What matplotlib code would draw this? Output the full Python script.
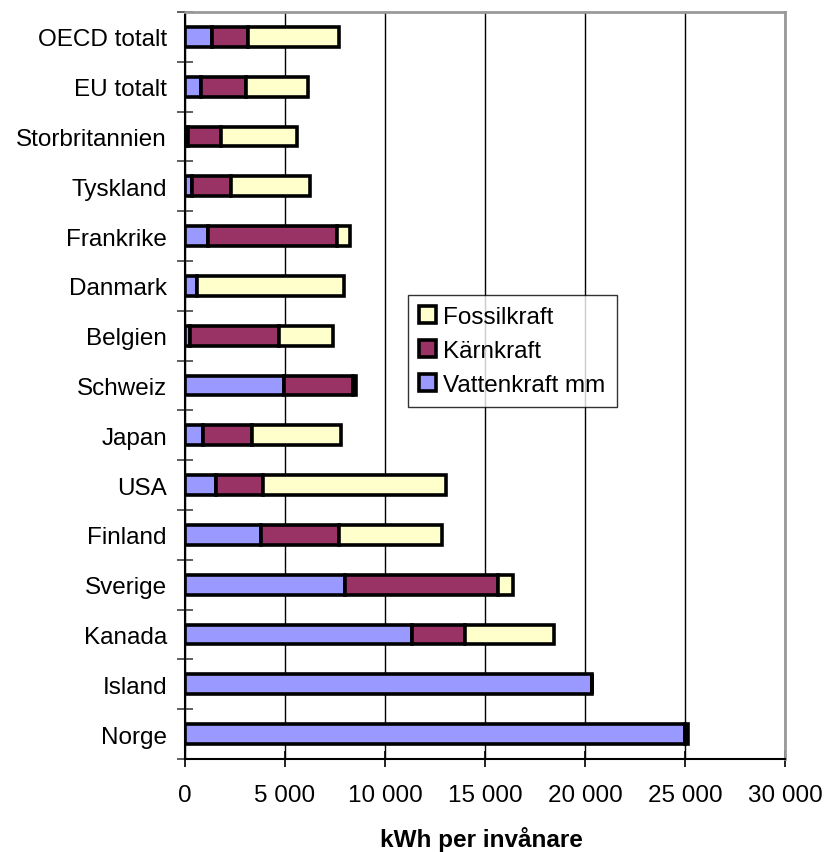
import numpy as np
import matplotlib.pyplot as plt

# Länder (nerifrån och upp som i diagrammet)
lander = ['Norge', 'Island', 'Kanada', 'Sverige', 'Finland', 'USA', 'Japan',
          'Schweiz', 'Belgien', 'Danmark', 'Frankrike', 'Tyskland',
          'Storbritannien', 'EU totalt', 'OECD totalt']

# kWh per invånare
vattenkraft = [25000, 20370, 11370, 7980, 3800, 1570, 920,
               4930, 230, 580, 1150, 350, 170, 820, 1370]
karnkraft = [0, 0, 2630, 7690, 3900, 2350, 2410,
             3470, 4450, 0, 6430, 1950, 1610, 2230, 1800]
fossilkraft = [130, 0, 4430, 750, 5170, 9150, 4470,
               150, 2720, 7350, 650, 3950, 3800, 3100, 4550]

xticks = [0, 5000, 10000, 15000, 20000, 25000, 30000]

plt.rcParams['font.family'] = ['Liberation Sans', 'DejaVu Sans']
fs = 17.5

fig = plt.figure(figsize=(8.24, 8.53), dpi=100)
ax = fig.add_axes([185/824, 93/853, 600/824, 747/853])

y = np.arange(len(lander))
h = 0.4
v = np.array(vattenkraft)
k = np.array(karnkraft)
f = np.array(fossilkraft)

ax.barh(y, v, h, color='#9999FF', edgecolor='black', linewidth=2.6,
        label='Vattenkraft mm', zorder=3)
ax.barh(y, k, h, left=v, color='#993366', edgecolor='black', linewidth=2.6,
        label='Kärnkraft', zorder=3)
ax.barh(y, f, h, left=v + k, color='#FFFFCC', edgecolor='black', linewidth=2.6,
        label='Fossilkraft', zorder=3)

ax.set_xlim(0, 30000)
ax.set_ylim(-0.5, len(lander) - 0.5)

ax.set_xticks(xticks)
ax.set_xticklabels([f'{t:,}'.replace(',', ' ') for t in xticks], fontsize=fs)
ax.tick_params(axis='x', direction='inout', length=12, width=1.2, pad=12)

ax.set_yticks(y)
ax.set_yticklabels(lander, fontsize=fs)
ax.tick_params(axis='y', which='major', length=0, pad=13)
ax.set_yticks(np.arange(-0.5, len(lander)), minor=True)
ax.tick_params(axis='y', which='minor', direction='inout', length=12,
               width=1.2, color='#444444')

ax.grid(axis='x', color='black', linewidth=1, zorder=0)
ax.spines['top'].set_color('#999999')
ax.spines['right'].set_color('#999999')
ax.spines['top'].set_linewidth(2)
ax.spines['right'].set_linewidth(2)
ax.spines['left'].set_linewidth(1.5)
ax.spines['bottom'].set_linewidth(1.5)

# x-etiketten ligger nästan i nederkanten
fig.text(481/824, 6/853, 'kWh per invånare', fontsize=fs,
         fontweight='bold', ha='center', va='baseline')

handles, labels = ax.get_legend_handles_labels()
leg = ax.legend(handles[::-1], labels[::-1], loc='upper left',
                bbox_to_anchor=(0.372, 0.621), fontsize=fs, frameon=True,
                fancybox=False, edgecolor='black', handlelength=0.7,
                handleheight=0.7, handletextpad=0.3, labelspacing=0.5,
                borderpad=0.45, borderaxespad=0)
leg.get_frame().set_linewidth(1)

plt.savefig('out.png', dpi=100)
